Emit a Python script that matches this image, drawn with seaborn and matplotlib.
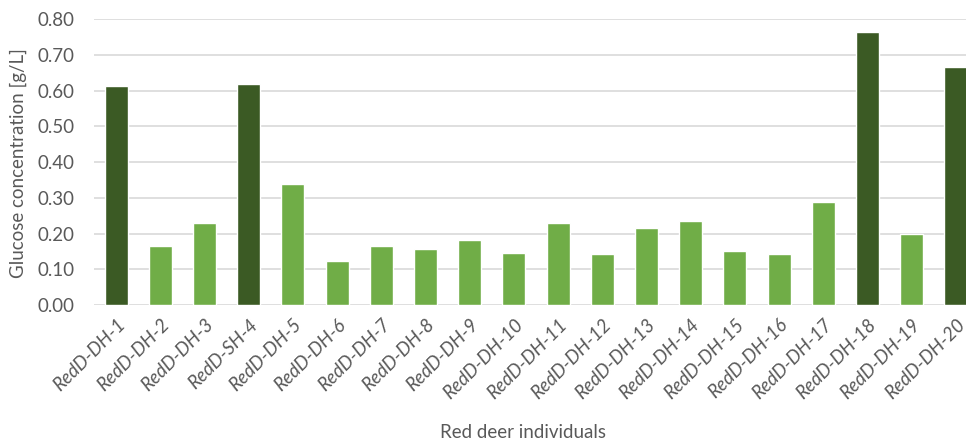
import matplotlib
matplotlib.use("Agg")
import matplotlib.pyplot as plt
import seaborn as sns
import pandas as pd

# -- Дані
individuals = [
    "RedD-DH-1", "RedD-DH-2", "RedD-DH-3", "RedD-SH-4", "RedD-DH-5",
    "RedD-DH-6", "RedD-DH-7", "RedD-DH-8", "RedD-DH-9", "RedD-DH-10",
    "RedD-DH-11", "RedD-DH-12", "RedD-DH-13", "RedD-DH-14", "RedD-DH-15",
    "RedD-DH-16", "RedD-DH-17", "RedD-DH-18", "RedD-DH-19", "RedD-DH-20",
]
glucose = [
    0.613, 0.165, 0.230, 0.617, 0.338,
    0.122, 0.164, 0.157, 0.182, 0.146,
    0.230, 0.143, 0.216, 0.234, 0.151,
    0.143, 0.287, 0.764, 0.199, 0.665,
]
group = [
    "high", "low", "low", "high", "low",
    "low", "low", "low", "low", "low",
    "low", "low", "low", "low", "low",
    "low", "low", "high", "low", "high",
]
yticks = [0.0, 0.1, 0.2, 0.3, 0.4, 0.5, 0.6, 0.7, 0.8]

palette = {"high": "#3B5A24", "low": "#70AD47"}
text_grey = "#595959"

df = pd.DataFrame({"individual": individuals, "glucose": glucose, "group": group})

sns.set_style("white")
plt.rcParams["font.family"] = ["Lato", "DejaVu Sans"]

fig = plt.figure(figsize=(9.66, 4.44), dpi=100)
ax = fig.add_axes([94 / 966, 1 - 305 / 444, 884 / 966, 286 / 444])

sns.barplot(data=df, x="individual", y="glucose", hue="group",
            palette=palette, width=0.52, dodge=False, legend=False,
            saturation=1, ax=ax, zorder=3)

ax.set_ylim(0, 0.8)
ax.set_xlim(-0.5, len(individuals) - 0.5)
ax.set_yticks(yticks)
ax.set_yticklabels([f"{v:.2f}" for v in yticks], fontsize=13.5, color=text_grey)
ax.yaxis.grid(True, color="#D9D9D9", linewidth=1.2, zorder=0)
ax.xaxis.grid(False)
ax.tick_params(axis="both", length=0)
ax.tick_params(axis="y", pad=14)

# Підписи осі X під кутом 45°
ax.set_xticks(range(len(individuals)))
ax.set_xticklabels(individuals, rotation=45, ha="right", rotation_mode="anchor",
                   fontsize=13.5, color=text_grey, style="italic")
ax.tick_params(axis="x", pad=8)

for s in ax.spines.values():
    s.set_visible(False)

ax.set_xlabel("")
ax.set_ylabel("")
fig.text(523 / 966, 1 - 432 / 444, "Red deer individuals", ha="center", va="center",
         fontsize=13.5, color=text_grey)
fig.text(18 / 966, 1 - 163 / 444, "Glucose concentration [g/L]", ha="center", va="center",
         rotation=90, fontsize=13.5, color=text_grey)

fig.savefig("out.png", dpi=100)
